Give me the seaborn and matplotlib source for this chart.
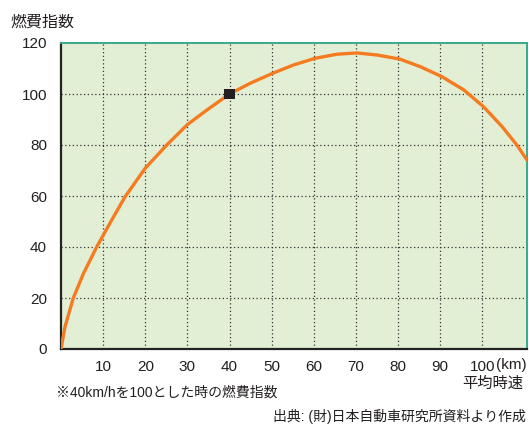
import numpy as np
import matplotlib
matplotlib.use("Agg")
import matplotlib.pyplot as plt
import seaborn as sns
import pandas as pd

# Data
speed = [0, 0.95, 2.9, 5.3, 8.5, 11.6, 15.2, 20, 25.1, 30, 34.6, 40, 44.9,
         50.2, 55.2, 60.3, 65.5, 70.2, 75, 80.4, 85.3, 90.4, 95.6, 100.3,
         104.7, 108.2, 110.6]
fuel_index = [0, 8.7, 19.9, 29.5, 40.1, 49.3, 59.7, 70.9, 80, 88, 93.7, 100,
              104.2, 108.1, 111.4, 114, 115.6, 116.1, 115.3, 113.7, 110.7,
              106.8, 101.6, 95, 87.2, 80, 74.1]
ref_speed = [40]
ref_index = [100]
x_ticks = [10, 20, 30, 40, 50, 60, 70, 80, 90, 100]
y_ticks = [0, 20, 40, 60, 80, 100, 120]

df = pd.DataFrame({"speed": speed, "index": fuel_index})
ref = pd.DataFrame({"speed": ref_speed, "index": ref_index})

sns.set_style("white")
plt.rcParams["font.family"] = ["Liberation Sans", "Noto Sans CJK JP", "DejaVu Sans"]
text_col = "#231f20"

fig = plt.figure(figsize=(5.29, 4.25), dpi=100)
ax = fig.add_axes([61 / 529, 76 / 425, 466 / 529, 306 / 425])
ax.set_facecolor("#e3efd5")

# dotted grid
for x in x_ticks:
    ax.axvline(x, color="#333333", lw=0.9, ls=(0, (1, 2)), zorder=1)
for y in y_ticks[1:-1]:
    ax.axhline(y, color="#333333", lw=0.9, ls=(0, (1, 2)), zorder=1)

sns.lineplot(data=df, x="speed", y="index", color="#f47b20", lw=2.4,
             ax=ax, zorder=3)
sns.scatterplot(data=ref, x="speed", y="index", marker="s", s=55,
                color="#231f20", edgecolor="none", ax=ax, zorder=4)

ax.set_xlim(0, 110.6)
ax.set_ylim(0, 120)
ax.set_xticks(x_ticks)
ax.set_xticklabels([str(v) for v in x_ticks])
ax.set_yticks(y_ticks)
ax.tick_params(length=0, labelsize=11, colors=text_col)
ax.tick_params(axis="x", pad=8)
ax.tick_params(axis="y", pad=10)
ax.set_xlabel("")
ax.set_ylabel("")

for s in ["left", "bottom"]:
    ax.spines[s].set_color("#222222")
    ax.spines[s].set_linewidth(1.6)
for s in ["top", "right"]:
    ax.spines[s].set_color("#3aa98a")
    ax.spines[s].set_linewidth(1.4)

fig.text(496 / 529, 1 - 365 / 425, "(km)", fontsize=11, color=text_col,
         ha="left", va="center")
fig.text(523 / 529, 1 - 384 / 425, "平均時速", fontsize=11, color=text_col,
         ha="right", va="center")
fig.text(10 / 529, 1 - 22 / 425, "燃費指数", fontsize=11.5, color=text_col,
         ha="left", va="center")
fig.text(56 / 529, 1 - 393 / 425, "※40km/hを100とした時の燃費指数", fontsize=10,
         color=text_col, ha="left", va="center")
fig.text(526 / 529, 1 - 416 / 425, "出典: (財)日本自動車研究所資料より作成",
         fontsize=10, color=text_col, ha="right", va="center")

fig.savefig("out.png", dpi=100)
